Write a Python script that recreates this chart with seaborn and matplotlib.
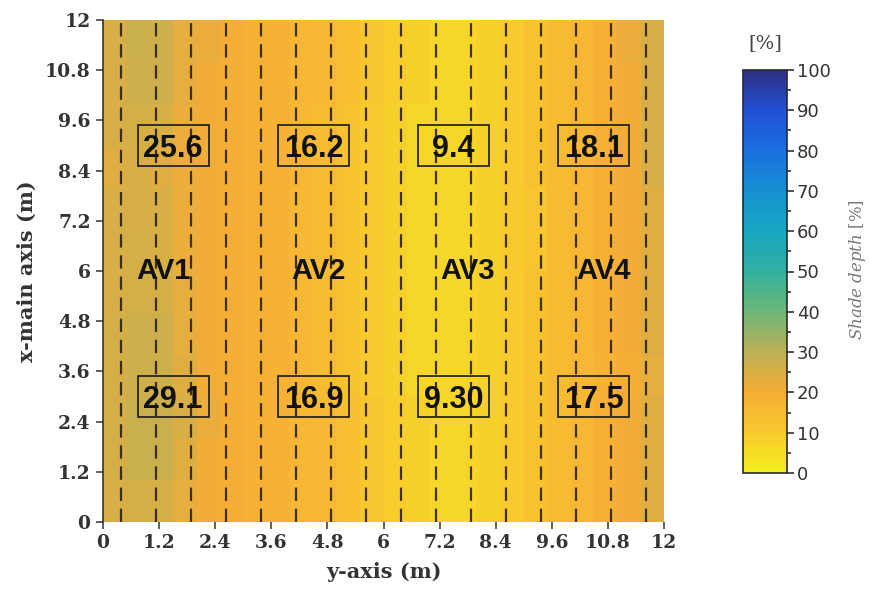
#!/usr/bin/env python
""" Shade depth map of the four agrivoltaic rows """

import pandas as pd
import seaborn as sns
import matplotlib
matplotlib.use("Agg")
import matplotlib.pyplot as plt
from matplotlib.colors import LinearSegmentedColormap
from matplotlib.font_manager import FontProperties
from matplotlib.patches import Rectangle

# Shade depth [%] on a 0.5 m (y-axis) x 1 m (x-main axis) grid, bottom row first
shade_rows = [
    [25, 26, 26, 23, 21, 20, 19, 18, 17, 16, 14, 11, 9, 8, 7, 7, 8, 10, 13, 15, 17, 19, 21, 24],
    [26, 28, 28, 24, 21, 20, 19, 18, 17, 16, 14, 11, 9, 8, 7, 7, 8, 10, 13, 15, 17, 19, 21, 24],
    [26, 28, 28, 25, 22, 20, 19, 18, 17, 16, 14, 11, 9, 8, 7, 7, 8, 10, 13, 15, 17, 19, 21, 24],
    [26, 27, 27, 24, 21, 20, 19, 18, 17, 15, 13, 10, 8, 7, 7, 7, 8, 10, 13, 15, 17, 18, 20, 23],
    [26, 27, 27, 23, 21, 20, 19, 18, 17, 15, 13, 10, 8, 7, 7, 7, 8, 10, 13, 15, 17, 19, 21, 24],
    [25, 26, 26, 23, 21, 20, 19, 18, 17, 15, 13, 10, 8, 7, 7, 7, 8, 10, 13, 15, 17, 19, 21, 24],
    [25, 26, 25, 22, 21, 20, 19, 18, 16, 15, 13, 10, 8, 7, 7, 7, 8, 10, 12, 15, 17, 19, 21, 24],
    [25, 25, 25, 22, 21, 20, 19, 18, 16, 15, 13, 10, 8, 7, 7, 7, 8, 10, 12, 15, 17, 19, 21, 24],
    [24, 25, 24, 22, 21, 20, 19, 18, 17, 15, 13, 10, 8, 7, 7, 7, 8, 10, 13, 15, 17, 19, 21, 25],
    [25, 26, 25, 22, 21, 20, 19, 18, 17, 15, 13, 10, 8, 7, 7, 7, 8, 10, 13, 15, 17, 19, 21, 25],
    [25, 27, 27, 23, 21, 20, 19, 18, 17, 16, 14, 11, 9, 8, 7, 7, 8, 10, 13, 15, 17, 19, 21, 25],
    [25, 28, 27, 23, 22, 20, 19, 18, 17, 16, 14, 11, 9, 8, 7, 7, 8, 10, 13, 15, 17, 19, 22, 25],
]
cell_w = 0.5   # m per column
cell_h = 1.0   # m per row

# panel row positions (dashed lines), m along y-axis
row_lines = [0.375, 1.125, 1.875, 2.625, 3.375, 4.125, 4.875, 5.625,
             6.375, 7.125, 7.875, 8.625, 9.375, 10.125, 10.875, 11.625]

# mean shade per zone
av_names = ["AV1", "AV2", "AV3", "AV4"]
av_label_x = [1.3, 4.6, 7.8, 10.7]
zone_x = [1.5, 4.5, 7.5, 10.5]
upper_vals = ["25.6", "16.2", "9.4", "18.1"]
lower_vals = ["29.1", "16.9", "9.30", "17.5"]
upper_y = 9.0
lower_y = 3.0
label_y = 6.0

ticks = [0, 1.2, 2.4, 3.6, 4.8, 6, 7.2, 8.4, 9.6, 10.8, 12]
tick_labels = ["0", "1.2", "2.4", "3.6", "4.8", "6", "7.2", "8.4", "9.6", "10.8", "12"]

cbar_stops = [0, 10, 20, 30, 40, 50, 60, 70, 80, 90, 100]
cbar_colors = ["#f3f01e", "#f8c92e", "#f6ad36", "#bcb055", "#6cb877", "#33b09e",
               "#17a6c0", "#1690d2", "#1a70e0", "#2250d6", "#2f2f82"]


def main():
    sns.set_style("white")
    plt.rcParams["mathtext.fontset"] = "dejavuserif"

    df = pd.DataFrame(shade_rows)
    cmap = LinearSegmentedColormap.from_list(
        "shade", list(zip([s / 100 for s in cbar_stops], cbar_colors)))

    fig = plt.figure(figsize=(8.69, 5.96), dpi=100)
    ax = fig.add_axes([103 / 869, 74 / 596, 561 / 869, 502 / 596])
    cax = fig.add_axes([743 / 869, 123 / 596, 44 / 869, 403 / 596])

    sns.heatmap(df, ax=ax, cbar_ax=cax, cmap=cmap, vmin=0, vmax=100,
                xticklabels=False, yticklabels=False, rasterized=True)
    ax.invert_yaxis()

    # dashed panel rows
    for xl in row_lines:
        ax.axvline(xl / cell_w, color="#2a2010", lw=1.6, ls=(0, (6, 3.5)), alpha=0.9)

    # boxes with mean values
    box_w = 1.52
    box_h = 1.0
    for cx, up, lo in zip(zone_x, upper_vals, lower_vals):
        for cy, txt in ((upper_y, up), (lower_y, lo)):
            ax.add_patch(Rectangle(((cx - box_w / 2) / cell_w, (cy - box_h / 2) / cell_h),
                                   box_w / cell_w, box_h / cell_h,
                                   fill=False, ec="#1a1a1a", lw=1.2))
            ax.text(cx / cell_w, (cy - 0.08) / cell_h, txt, ha="center", va="center",
                    fontsize=22, fontweight="bold", family="Liberation Sans",
                    color="#111111")
    for name, lx in zip(av_names, av_label_x):
        ax.text(lx / cell_w, label_y / cell_h, name, ha="center", va="center",
                fontsize=21, fontweight="bold", family="Liberation Sans",
                color="#111111")

    # axes
    ax.set_xticks([t / cell_w for t in ticks])
    ax.set_xticklabels(tick_labels)
    ax.set_yticks([t / cell_h for t in ticks])
    ax.set_yticklabels(tick_labels, rotation=0)
    tick_font = FontProperties(family="DejaVu Serif", weight="bold", size=13.5)
    for lab in ax.get_xticklabels() + ax.get_yticklabels():
        lab.set_fontproperties(tick_font)
        lab.set_color("#333333")
    ax.tick_params(axis="both", which="major", length=5, width=1.2,
                   color="#444444", pad=4, bottom=True, left=True)
    for side in ["top", "right", "bottom"]:
        ax.spines[side].set_visible(False)
    ax.spines["left"].set_visible(True)
    ax.spines["left"].set_color("#333333")
    ax.spines["left"].set_linewidth(1.2)
    ax.set_xlabel("y-axis (m)", family="DejaVu Serif", weight="bold",
                  size=15, color="#333333", labelpad=7)
    ax.set_ylabel("x-main axis (m)", family="DejaVu Serif", weight="bold",
                  size=15, color="#333333", labelpad=6)

    # colorbar
    cbar = ax.collections[0].colorbar
    cbar.set_ticks(cbar_stops)
    cbar.set_ticklabels([str(s) for s in cbar_stops])
    cbar.ax.set_yticks(list(range(5, 100, 10)), minor=True)
    cbar.ax.tick_params(which="major", length=5, width=1.2, color="#333333",
                        labelsize=13, labelcolor="#333333", pad=2)
    cbar.ax.tick_params(which="minor", length=3, width=1.2, color="#333333")
    cbar.outline.set_visible(True)
    cbar.outline.set_edgecolor("#2a2a2a")
    cbar.outline.set_linewidth(1.2)
    cbar.ax.set_title("[%]", family="DejaVu Serif", size=14, color="#444444", pad=16)
    fig.text(857 / 869, 326 / 596, r"$\mathit{Shade\ depth}$ [%]", rotation=90,
             ha="center", va="center", family="DejaVu Serif", size=12,
             color="#777777")

    fig.savefig("out.png", dpi=100, facecolor="white")
    plt.close(fig)


if __name__ == "__main__":
    main()
